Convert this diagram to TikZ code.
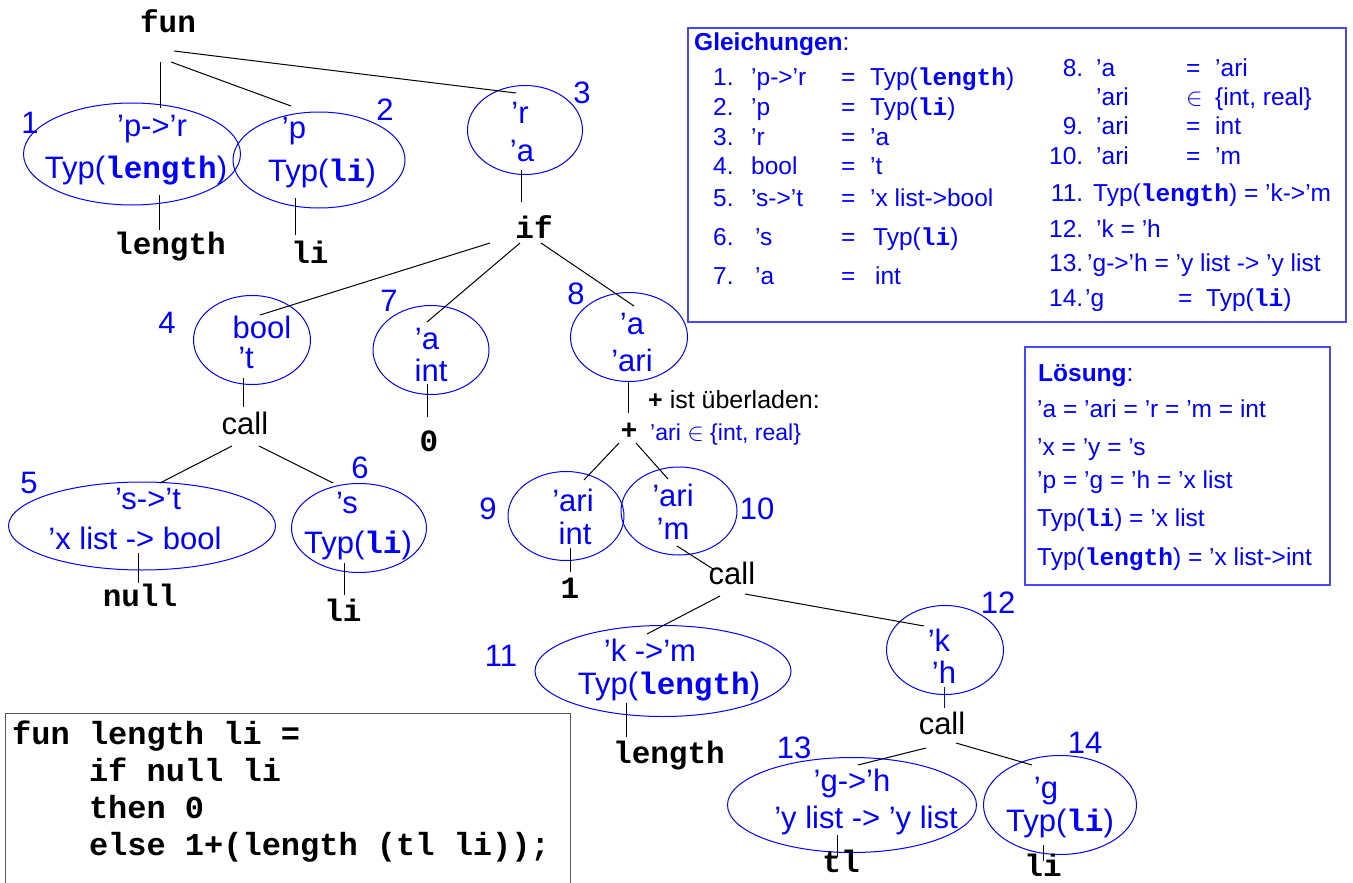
\documentclass[tikz,border=0pt]{standalone}
\usepackage{fontspec}
\setmainfont{Liberation Sans}
\setmonofont{Liberation Mono}
\usetikzlibrary{shapes.geometric}
\definecolor{boxblue}{RGB}{70,70,255}
\newcommand{\cd}[1]{{\ttfamily\bfseries #1}}
\newcommand{\gl}[3]{\makebox[38pt][l]{#1}\makebox[90pt][l]{#2}\makebox[29pt][l]{=}#3}
\newcommand{\glr}[4]{\makebox[38pt][r]{#1}\hspace{13pt}\makebox[90pt][l]{#2}\makebox[29pt][l]{#3}#4}

\begin{document}
\begin{tikzpicture}[x=1pt,y=-1pt,
  ell/.style={draw=blue,line width=1pt,ellipse,inner sep=0pt},
  typ/.style={text=blue,font=\fontsize{31}{31}\selectfont,inner sep=0pt,text height=22pt,text depth=0pt},
  num/.style={typ},
  leaf/.style={font=\fontsize{31}{31}\selectfont\ttfamily\bfseries,inner sep=0pt,text height=22pt,text depth=0pt},
  kw/.style={font=\fontsize{31}{31}\selectfont,inner sep=0pt,text height=22pt,text depth=0pt},
  con/.style={draw=black,line width=1pt},
  eq/.style={text=blue,font=\fontsize{24.5}{24.5}\selectfont,anchor=base west,inner sep=0pt},
  note/.style={font=\fontsize{25}{25}\selectfont,anchor=base west,inner sep=0pt},
  box/.style={draw=boxblue,line width=1.2pt},
  codebox/.style={draw=black!65,line width=1pt},
  code/.style={font=\fontsize{32}{37}\selectfont\ttfamily\bfseries,align=left,inner sep=0pt}]
\useasboundingbox (0,0) rectangle (1353,883);

% tree
\node[leaf] (fun) at (168,22) {fun};

\node[ell,minimum width=217pt,minimum height=102pt] (e1) at (132,154) {};
\node[typ] (t1) at (152,125) {’p->’r};
\node[typ] (b1) at (136,167) {Typ(\cd{length})};
\node[num] (n1) at (30,122) {1};
\node[leaf] (len1) at (170,243) {length};

\node[ell,minimum width=172pt,minimum height=96pt] (e2) at (319,160) {};
\node[typ] (t2) at (294,128) {’p};
\node[typ] (b2) at (322,170) {Typ(\cd{li})};
\node[num] (n2) at (385,110) {2};
\node[leaf] (li1) at (310,252) {li};

\node[ell,minimum width=115pt,minimum height=89pt] (e3) at (525,130) {};
\node[typ] (t3) at (520,112) {’r};
\node[typ] (b3) at (522,150) {’a};
\node[num] (n3) at (582,92) {3};
\node[leaf] (ifn) at (534,227) {if};

\node[ell,minimum width=117pt,minimum height=89pt] (e4) at (252,340) {};
\node[typ] (t4) at (262,327) {bool};
\node[typ] (b4) at (246,357) {’t};
\node[num] (n4) at (167,322) {4};
\node[kw] (call1) at (245,423) {call};

\node[ell,minimum width=267pt,minimum height=88pt] (e5) at (142,526) {};
\node[typ] (t5) at (148,498) {’s->’t};
\node[typ] (b5) at (135,538) {’x list -> bool};
\node[num] (n5) at (29,482) {5};
\node[leaf] (null) at (140,595) {null};

\node[ell,minimum width=135pt,minimum height=89pt] (e6) at (359,528) {};
\node[typ] (t6) at (347,502) {’s};
\node[typ] (b6) at (358,542) {Typ(\cd{li})};
\node[num] (n6) at (360,467) {6};
\node[leaf] (li2) at (343,610) {li};

\node[ell,minimum width=116pt,minimum height=89pt] (e7) at (431,350) {};
\node[typ] (t7) at (427,338) {’a};
\node[typ] (b7) at (431,370) {int};
\node[num] (n7) at (389,300) {7};
\node[leaf] (zero) at (429,440) {0};

\node[ell,minimum width=117pt,minimum height=89pt] (e8) at (629,337) {};
\node[typ] (t8) at (632,323) {’a};
\node[typ] (b8) at (632,360) {’ari};
\node[num] (n8) at (576,293) {8};
\node[kw,font=\fontsize{28}{28}\selectfont\bfseries] (plus) at (629,428) {+};
\node[note] (ovl) at (648,408) {\textbf{+} ist überladen:};
\node[note,text=blue,font=\fontsize{23}{23}\selectfont] (ari) at (650,440) {’ari $\in$ \{int, real\}};

\node[ell,minimum width=116pt,minimum height=89pt] (e9) at (566,516) {};
\node[typ] (t9) at (573,500) {’ari};
\node[typ] (b9) at (575,533) {int};
\node[num] (n9) at (488,508) {9};
\node[leaf] (one) at (570,587) {1};

\node[ell,minimum width=116pt,minimum height=88pt] (e10) at (679,511) {};
\node[typ] (t10) at (673,495) {’ari};
\node[typ] (b10) at (673,528) {’m};
\node[num] (n10) at (757,508) {10};
\node[kw] (call2) at (732,573) {call};

\node[ell,minimum width=256pt,minimum height=91pt] (e11) at (663,671) {};
\node[typ] (t11) at (650,650) {’k ->’m};
\node[typ] (b11) at (669,683) {Typ(\cd{length})};
\node[num] (n11) at (501,655) {11};
\node[leaf] (len2) at (669,752) {length};

\node[ell,minimum width=117pt,minimum height=89pt] (e12) at (945,650) {};
\node[typ] (t12) at (939,640) {’k};
\node[typ] (b12) at (944,672) {’h};
\node[num] (n12) at (998,602) {12};
\node[kw] (call3) at (942,723) {call};

\node[ell,minimum width=249pt,minimum height=95pt] (e13) at (852,805) {};
\node[typ] (t13) at (852,780) {’g->’h};
\node[typ] (b13) at (866,817) {’y list -> ’y list};
\node[num] (n13) at (794,747) {13};
\node[leaf] (tl) at (841,861) {tl};

\node[ell,minimum width=153pt,minimum height=99pt] (e14) at (1060,805) {};
\node[typ] (t14) at (1046,787) {’g};
\node[typ] (b14) at (1060,820) {Typ(\cd{li})};
\node[num] (n14) at (1085,742) {14};
\node[leaf] (li3) at (1043,865) {li};

% connectors
\draw[con] ([shift={(-8,40)}]fun.center) -- ([shift={(8,-17)}]t1.center);
\draw[con] ([shift={(3,40)}]fun.center) -- ([shift={(-3,-22)}]t2.center);
\draw[con] ([shift={(6,29)}]fun.center) -- ([shift={(-4,-19)}]t3.center);
\draw[con] ([shift={(23,28)}]b1.center) -- ([shift={(-11,-13)}]len1.center);
\draw[con] ([shift={(-27,28)}]b2.center) -- ([shift={(-15,-17)}]li1.center);
\draw[con] ([shift={(-1,20)}]b3.center) -- ([shift={(-13,-25)}]ifn.center);
\draw[con] ([shift={(-44,16)}]ifn.center) -- ([shift={(-2,-12)}]t4.center);
\draw[con] ([shift={(-14,16)}]ifn.center) -- ([shift={(0,-16)}]t7.center);
\draw[con] ([shift={(7,16)}]ifn.center) -- ([shift={(2,-17)}]t8.center);
\draw[con] ([shift={(-3,21)}]b4.center) -- ([shift={(-2,-16)}]call1.center);
\draw[con] ([shift={(-13,23)}]call1.center) -- ([shift={(12,-15)}]t5.center);
\draw[con] ([shift={(14,23)}]call1.center) -- ([shift={(-14,-19)}]t6.center);
\draw[con] ([shift={(-4,14)}]b7.center) -- ([shift={(-2,-23)}]zero.center);
\draw[con] ([shift={(3,15)}]b5.center) -- ([shift={(-2,-12)}]null.center);
\draw[con] ([shift={(-14,21)}]b6.center) -- ([shift={(1,-15)}]li2.center);
\draw[con] ([shift={(-4,22)}]b8.center) -- ([shift={(-1,-15)}]plus.center);
\draw[con] ([shift={(-10,15)}]plus.center) -- ([shift={(11,-20)}]t9.center);
\draw[con] ([shift={(7,15)}]plus.center) -- ([shift={(-5,-16)}]t10.center);
\draw[con] ([shift={(-5,15)}]b9.center) -- ([shift={(0,-15)}]one.center);
\draw[con] ([shift={(4,18)}]b10.center) -- ([shift={(-19,-4)}]call2.center);
\draw[con] ([shift={(-12,23)}]call2.center) -- ([shift={(-3,-16)}]t11.center);
\draw[con] ([shift={(13,21)}]call2.center) -- ([shift={(-15,-14)}]t12.center);
\draw[con] ([shift={(-43,20)}]b11.center) -- ([shift={(-43,-15)}]len2.center);
\draw[con,draw=blue] ([shift={(0,15)}]b12.center) -- ([shift={(2,-15)}]call3.center);
\draw[con] ([shift={(-16,25)}]call3.center) -- ([shift={(6,-15)}]t13.center);
\draw[con] ([shift={(14,20)}]call3.center) -- ([shift={(-14,-22)}]t14.center);
\draw[con] ([shift={(-29,18)}]b13.center) -- ([shift={(-4,-4)}]tl.center);
\draw[con] ([shift={(-17,25)}]b14.center) -- ([shift={(0,-4)}]li3.center);

% Gleichungen
\draw[box] (688,28) rectangle (1346,322);
\node[eq] (glh) at (694,51) {\textbf{Gleichungen}:};
\node[eq] (g1) at (713,85) {\gl{1.}{’p->’r}{Typ(\cd{length})}};
\node[eq] (g2) at (713,115) {\gl{2.}{’p}{Typ(\cd{li})}};
\node[eq] (g3) at (713,145) {\gl{3.}{’r}{’a}};
\node[eq] (g4) at (713,174) {\gl{4.}{bool}{’t}};
\node[eq] (g5) at (713,206) {\gl{5.}{’s->’t}{’x list->bool}};
\node[eq] (g6) at (713,245) {\gl{6.}{\hspace{4pt}’s}{\hspace{3pt}Typ(\cd{li})}};
\node[eq] (g7) at (713,284) {\gl{7.}{\hspace{4pt}’a}{\hspace{5pt}int}};
\node[eq] (g8) at (1045,77) {\glr{8.}{’a}{=}{’ari}};
\node[eq] (g8b) at (1045,106) {\glr{}{’ari}{$\in$}{\{int, real\}}};
\node[eq] (g9) at (1045,134) {\glr{9.}{’ari}{=}{int}};
\node[eq] (g10) at (1045,164) {\glr{10.}{’ari}{=}{’m}};
\node[eq] (g11) at (1045,201) {\makebox[38pt][r]{11.}\hspace{10pt}Typ(\cd{length}) = ’k->’m};
\node[eq] (g12) at (1045,237) {\makebox[38pt][r]{12.}\hspace{13pt}’k = ’h};
\node[eq] (g13) at (1045,271) {\makebox[38pt][r]{13.}\hspace{4pt}’g->’h = ’y list -> ’y list};
\node[eq] (g14) at (1045,306) {\makebox[38pt][r]{14.}\hspace{2pt}\makebox[93pt][l]{’g}\makebox[28pt][l]{=}Typ(\cd{li})};

% Loesung
\draw[box] (1025,347) rectangle (1330,585);
\node[eq] (loe) at (1038,381) {\textbf{Lösung}:};
\node[eq] (l1) at (1037,417) {’a = ’ari = ’r = ’m = int};
\node[eq] (l2) at (1037,455) {’x = ’y = ’s};
\node[eq] (l3) at (1037,488) {’p = ’g = ’h = ’x list};
\node[eq] (l4) at (1037,526) {Typ(\cd{li}) = ’x list};
\node[eq] (l5) at (1037,565) {Typ(\cd{length}) = ’x list->int};

% Programm
\draw[codebox] (5,883) -- (5,713) -- (570,713) -- (570,883);
\node[code,anchor=north west] (code) at (12,721) {fun length li =\\
\hspace*{76.8pt}if null li\\
\hspace*{76.8pt}then 0\\
\hspace*{76.8pt}else 1+(length (tl li));};
\end{tikzpicture}
\end{document}
